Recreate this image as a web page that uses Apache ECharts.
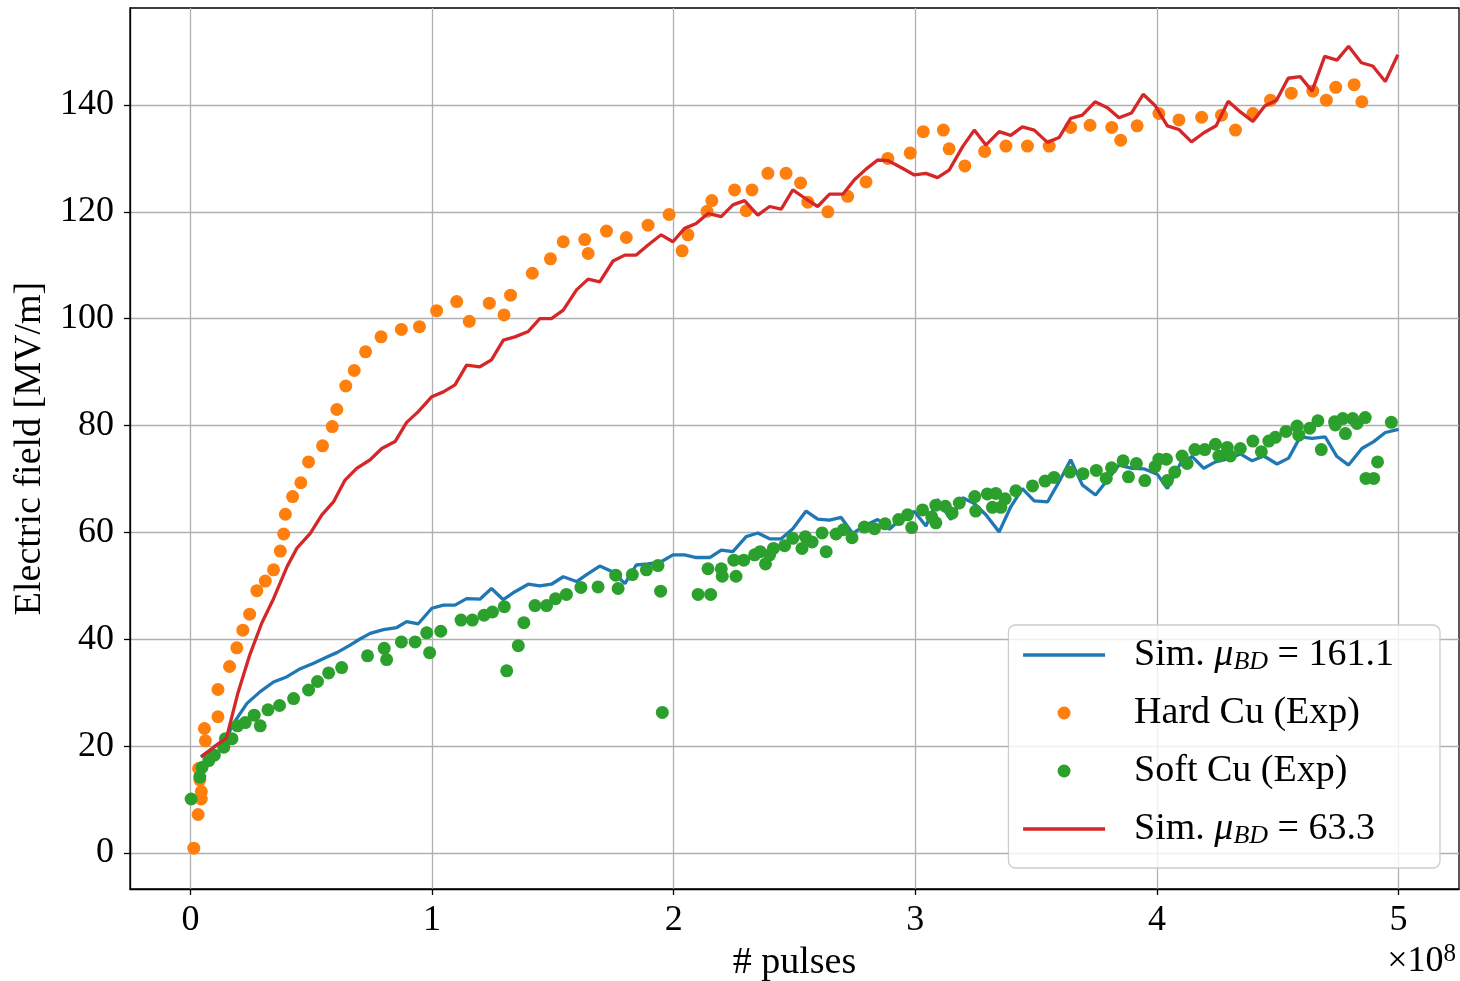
<!DOCTYPE html>
<html>
<head>
<meta charset="utf-8">
<script src="https://cdn.jsdelivr.net/npm/echarts@6/dist/echarts.min.js"></script>
<style>
  html, body { margin: 0; padding: 0; background: #fff; }
  #chart { width: 1460px; height: 981px; }
</style>
</head>
<body>
<div id="chart"></div>
<script>
// x values are in units of 1e8 pulses, y values in MV/m
const xTicks = [0, 1, 2, 3, 4, 5];
const yTicks = [0, 20, 40, 60, 80, 100, 120, 140];

const simHigh = [ // Sim. mu_BD = 161.1
  [0.044,18.0],[0.097,19.8],[0.149,21.5],[0.179,24.3],[0.234,28.0],[0.289,30.2],[0.344,32.0],[0.40,33.0],
  [0.455,34.5],[0.51,35.5],[0.565,36.7],[0.606,37.5],[0.661,38.9],[0.70,40.0],[0.744,41.1],[0.799,41.8],
  [0.854,42.2],[0.895,43.3],[0.943,42.9],[0.999,45.8],[1.047,46.4],[1.095,46.4],[1.143,47.6],[1.198,47.5],
  [1.246,49.5],[1.295,47.4],[1.343,48.9],[1.398,50.3],[1.446,50.0],[1.494,50.3],[1.543,51.7],[1.598,50.8],
  [1.646,52.3],[1.694,53.7],[1.749,52.6],[1.798,50.4],[1.845,53.9],[1.894,54.1],[1.948,54.5],[1.997,55.8],
  [2.045,55.8],[2.093,55.3],[2.149,55.3],[2.197,56.7],[2.245,56.4],[2.30,59.2],[2.348,59.9],[2.397,58.8],
  [2.445,58.8],[2.493,60.7],[2.548,64.0],[2.596,62.5],[2.645,62.3],[2.693,62.8],[2.741,59.8],[2.796,61.4],
  [2.844,62.4],[2.893,60.6],[2.948,62.9],[2.996,63.9],[3.044,61.2],[3.092,66.2],[3.147,62.4],[3.196,66.5],
  [3.244,65.4],[3.292,63.3],[3.347,60.1],[3.395,64.8],[3.443,68.2],[3.492,65.9],[3.547,65.7],[3.595,69.5],
  [3.643,73.6],[3.691,68.9],[3.746,67.0],[3.795,69.8],[3.843,72.6],[3.898,72.0],[3.946,71.9],[4.001,70.9],
  [4.043,68.2],[4.097,72.9],[4.146,74.2],[4.194,72.0],[4.242,73.2],[4.29,73.7],[4.345,74.7],[4.394,73.4],
  [4.442,74.3],[4.497,72.8],[4.545,73.9],[4.593,77.9],[4.642,77.6],[4.696,77.9],[4.745,74.2],[4.793,72.6],
  [4.848,75.7],[4.897,77.0],[4.945,78.7],[5.0,79.3]
];

const hardCu = [ // Hard Cu (Exp)
  [0.014,0.9],[0.032,7.2],[0.045,10.1],[0.045,11.5],[0.039,13.7],[0.034,15.8],[0.062,21.0],[0.058,23.3],
  [0.114,25.5],[0.114,30.6],[0.162,34.9],[0.192,38.4],[0.217,41.7],[0.245,44.7],[0.275,49.1],[0.31,50.9],
  [0.344,53.0],[0.372,56.5],[0.386,59.7],[0.393,63.4],[0.423,66.7],[0.457,69.3],[0.489,73.2],[0.547,76.2],
  [0.587,79.8],[0.606,83.0],[0.643,87.4],[0.678,90.3],[0.725,93.8],[0.789,96.6],[0.873,98.0],[0.948,98.5],
  [1.019,101.5],[1.102,103.2],[1.154,99.5],[1.237,102.9],[1.298,100.7],[1.325,104.4],[1.415,108.5],[1.49,111.2],
  [1.543,114.4],[1.632,114.8],[1.646,112.2],[1.722,116.4],[1.804,115.2],[1.894,117.5],[1.981,119.5],[2.035,112.7],
  [2.059,115.7],[2.138,120.1],[2.158,122.1],[2.252,124.1],[2.30,120.2],[2.324,124.1],[2.39,127.2],[2.465,127.2],
  [2.525,125.4],[2.555,121.8],[2.638,120.0],[2.72,122.9],[2.796,125.6],[2.886,130.0],[2.979,131.0],[3.033,135.0],
  [3.116,135.3],[3.14,131.8],[3.205,128.6],[3.287,131.3],[3.375,132.3],[3.464,132.3],[3.554,132.3],[3.643,135.8],
  [3.723,136.2],[3.813,135.8],[3.85,133.4],[3.918,136.1],[4.008,138.4],[4.091,137.2],[4.185,137.7],[4.267,138.1],
  [4.325,135.3],[4.397,138.4],[4.47,140.9],[4.556,142.2],[4.645,142.6],[4.701,140.9],[4.74,143.3],[4.816,143.8],
  [4.848,140.6]
];

const softCu = [ // Soft Cu (Exp)
  [0.003,10.1],[0.039,14.2],[0.048,16.0],[0.076,17.3],[0.099,18.3],[0.138,19.8],[0.145,21.4],[0.172,21.4],
  [0.195,23.8],[0.227,24.4],[0.264,25.8],[0.289,23.8],[0.321,26.8],[0.369,27.6],[0.427,28.9],[0.489,30.5],
  [0.526,32.1],[0.572,33.7],[0.626,34.7],[0.733,36.9],[0.802,38.3],[0.812,36.2],[0.873,39.5],[0.93,39.5],
  [0.978,41.2],[0.99,37.5],[1.036,41.5],[1.12,43.6],[1.167,43.6],[1.215,44.5],[1.25,45.1],[1.299,46.1],
  [1.309,34.1],[1.357,38.8],[1.38,43.1],[1.426,46.3],[1.474,46.3],[1.511,47.6],[1.556,48.4],[1.616,49.7],
  [1.687,49.8],[1.76,52.0],[1.77,49.5],[1.829,52.1],[1.887,53.0],[1.935,53.8],[1.946,49.0],[1.953,26.3],
  [2.101,48.4],[2.153,48.4],[2.142,53.2],[2.197,53.2],[2.201,51.8],[2.258,51.8],[2.249,54.8],[2.29,54.8],
  [2.335,55.8],[2.358,56.4],[2.38,54.1],[2.397,55.8],[2.413,57.0],[2.459,57.5],[2.493,58.9],[2.531,57.0],
  [2.545,59.2],[2.573,58.2],[2.614,59.9],[2.631,56.4],[2.672,59.7],[2.702,60.5],[2.738,59.0],[2.789,61.0],
  [2.831,60.7],[2.875,61.6],[2.931,62.4],[2.968,63.3],[2.985,60.9],[3.03,64.2],[3.068,62.9],[3.085,65.1],
  [3.085,61.8],[3.124,64.9],[3.152,63.6],[3.182,65.5],[3.246,66.7],[3.25,64.0],[3.298,67.2],[3.333,67.3],
  [3.319,64.7],[3.354,64.7],[3.372,66.3],[3.416,67.8],[3.485,68.7],[3.537,69.6],[3.574,70.3],[3.64,71.3],
  [3.694,71.0],[3.749,71.6],[3.79,70.1],[3.812,72.1],[3.86,73.4],[3.882,70.4],[3.915,72.9],[3.95,69.7],
  [3.992,72.3],[4.008,73.7],[4.039,73.7],[4.043,69.7],[4.074,71.3],[4.104,74.3],[4.125,72.9],[4.157,75.5],
  [4.198,75.5],[4.242,76.5],[4.256,74.3],[4.291,75.9],[4.304,74.3],[4.345,75.7],[4.397,77.1],[4.432,75.1],
  [4.463,77.1],[4.49,77.8],[4.534,78.9],[4.58,79.9],[4.587,78.2],[4.632,79.5],[4.666,80.9],[4.68,75.5],
  [4.735,80.7],[4.738,80.1],[4.769,81.3],[4.78,78.5],[4.81,81.3],[4.828,80.4],[4.862,81.5],[4.865,70.1],
  [4.897,70.1],[4.913,73.2],[4.97,80.6]
];

const simLow = [ // Sim. mu_BD = 63.3
  [0.044,18.0],[0.097,19.8],[0.149,21.5],[0.197,30.0],[0.245,37.0],[0.295,43.0],[0.344,47.6],[0.40,53.6],
  [0.44,57.0],[0.496,59.8],[0.544,63.3],[0.592,65.7],[0.64,69.8],[0.688,72.0],[0.744,73.6],[0.792,75.7],
  [0.847,77.0],[0.895,80.6],[0.943,82.6],[0.999,85.4],[1.047,86.3],[1.095,87.6],[1.143,91.3],[1.198,91.0],
  [1.246,92.3],[1.295,96.0],[1.343,96.6],[1.398,97.6],[1.446,100.0],[1.494,100.0],[1.543,101.6],[1.598,105.4],
  [1.646,107.4],[1.694,106.9],[1.749,110.8],[1.798,111.9],[1.845,111.9],[1.894,113.8],[1.948,115.7],[1.997,114.4],
  [2.045,116.9],[2.093,117.8],[2.142,119.7],[2.197,119.1],[2.245,121.3],[2.293,122.1],[2.348,119.4],[2.397,121.0],
  [2.445,120.5],[2.493,124.1],[2.548,122.4],[2.596,121.0],[2.645,123.3],[2.700,123.3],[2.748,126.0],[2.796,128.0],
  [2.844,129.7],[2.886,129.6],[2.941,128.3],[2.996,126.9],[3.044,127.2],[3.092,126.4],[3.140,127.8],[3.196,132.2],
  [3.244,135.3],[3.292,132.5],[3.347,135.0],[3.395,134.3],[3.443,135.9],[3.492,135.3],[3.547,133.0],[3.595,133.9],
  [3.643,137.5],[3.691,138.1],[3.744,140.6],[3.795,139.5],[3.843,137.6],[3.895,138.5],[3.943,142.0],[3.994,139.8],
  [4.043,136.1],[4.091,135.4],[4.143,133.1],[4.194,134.8],[4.245,136.1],[4.295,140.7],[4.345,138.7],[4.397,136.9],
  [4.446,139.8],[4.495,140.9],[4.543,145.0],[4.593,145.3],[4.642,142.6],[4.694,149.1],[4.745,148.4],[4.793,151.0],
  [4.846,147.9],[4.893,147.3],[4.945,144.4],[4.997,149.4]
];

const FONT = '"Liberation Serif", "DejaVu Serif", serif';
const GRID_COLOR = '#b0b0b0';
const LINE_W = 3.3;

const legendText = {
  'simHigh': '{g|Sim. }{m|μ}{s|BD}{n| = 161.1}',
  'hardCu': '{g|Hard Cu (Exp)}',
  'softCu': '{g|Soft Cu (Exp)}',
  'simLow': '{g|Sim. }{m|μ}{s|BD}{n| = 63.3}'
};

// line entries show only the stroke, no marker in the middle
const noMarker = { color: 'rgba(0,0,0,0)', borderWidth: 0, opacity: 0 };

const chart = echarts.init(document.getElementById('chart'), null, { renderer: 'canvas' });

chart.setOption({
  animation: false,
  backgroundColor: '#ffffff',
  grid: {
    left: 130, right: 1, top: 8, bottom: 92,
    outerBoundsMode: 'none',
    containLabel: false,
    show: true, borderColor: '#000', borderWidth: 1.3, backgroundColor: 'transparent'
  },
  xAxis: {
    type: 'value',
    min: -0.25, max: 5.25,
    name: '# pulses',
    nameLocation: 'middle',
    nameGap: 53,
    nameTextStyle: { fontFamily: FONT, fontSize: 38, color: '#000' },
    axisLine: { show: true, onZero: false, lineStyle: { color: '#000', width: 1.3 } },
    axisTick: { show: true, length: 6, customValues: xTicks, lineStyle: { color: '#000', width: 1.3 } },
    axisLabel: {
      customValues: xTicks, margin: 14,
      fontFamily: FONT, fontSize: 36, color: '#000',
      formatter: v => String(v)
    },
    splitLine: { show: true, lineStyle: { color: GRID_COLOR, width: 1.3 } }
  },
  yAxis: {
    type: 'value',
    min: -6.74, max: 158.15,
    name: 'Electric field [MV/m]',
    nameLocation: 'middle',
    nameGap: 79,
    nameTextStyle: { fontFamily: FONT, fontSize: 38, color: '#000' },
    axisLine: { show: true, onZero: false, lineStyle: { color: '#000', width: 1.3 } },
    axisTick: { show: true, length: 6, customValues: yTicks, lineStyle: { color: '#000', width: 1.3 } },
    axisLabel: {
      customValues: yTicks, margin: 16,
      fontFamily: FONT, fontSize: 36, color: '#000',
      formatter: v => String(v)
    },
    splitLine: { show: true, lineStyle: { color: GRID_COLOR, width: 1.3 } }
  },
  legend: {
    orient: 'vertical',
    right: 20, bottom: 113,
    itemWidth: 82, itemHeight: 13, itemGap: 18,
    padding: [10, 46, 19, 13],
    backgroundColor: 'rgba(255,255,255,0.8)',
    borderColor: '#cccccc', borderWidth: 1.3, borderRadius: 7,
    data: [
      { name: 'simHigh', itemStyle: noMarker, lineStyle: { width: LINE_W } },
      { name: 'hardCu' },
      { name: 'softCu' },
      { name: 'simLow', itemStyle: noMarker, lineStyle: { width: LINE_W } }
    ],
    formatter: name => legendText[name],
    textStyle: {
      fontFamily: FONT, fontSize: 38, color: '#000', lineHeight: 40,
      rich: {
        g: { fontFamily: FONT, fontSize: 38, lineHeight: 40, padding: [0, 0, 0, 24], color: '#000' },
        n: { fontFamily: FONT, fontSize: 38, lineHeight: 40, color: '#000' },
        m: { fontFamily: FONT, fontSize: 38, lineHeight: 40, fontStyle: 'italic', color: '#000' },
        s: { fontFamily: FONT, fontSize: 26, lineHeight: 26, fontStyle: 'italic', color: '#000',
             verticalAlign: 'bottom', padding: [14, 0, 0, 0] }
      }
    }
  },
  graphic: [{
    type: 'text',
    right: 4, top: 942,
    style: {
      text: '{a|×10}{b|8}',
      rich: {
        a: { fontFamily: FONT, fontSize: 36, lineHeight: 40, fill: '#000' },
        b: { fontFamily: FONT, fontSize: 25, lineHeight: 26, fill: '#000', verticalAlign: 'top', padding: [0, 0, 14, 0] }
      }
    }
  }],
  series: [
    {
      name: 'simHigh', type: 'line', data: simHigh,
      showSymbol: false, symbol: 'none',
      lineStyle: { color: '#1f77b4', width: LINE_W }, itemStyle: { color: '#1f77b4' },
      z: 2
    },
    {
      name: 'hardCu', type: 'scatter', data: hardCu,
      symbol: 'circle', symbolSize: 13,
      itemStyle: { color: '#ff7f0e', opacity: 1 },
      z: 3
    },
    {
      name: 'softCu', type: 'scatter', data: softCu,
      symbol: 'circle', symbolSize: 13,
      itemStyle: { color: '#2ca02c', opacity: 1 },
      z: 4
    },
    {
      name: 'simLow', type: 'line', data: simLow,
      showSymbol: false, symbol: 'none',
      lineStyle: { color: '#d62728', width: LINE_W }, itemStyle: { color: '#d62728' },
      z: 5
    }
  ]
});
</script>
</body>
</html>
